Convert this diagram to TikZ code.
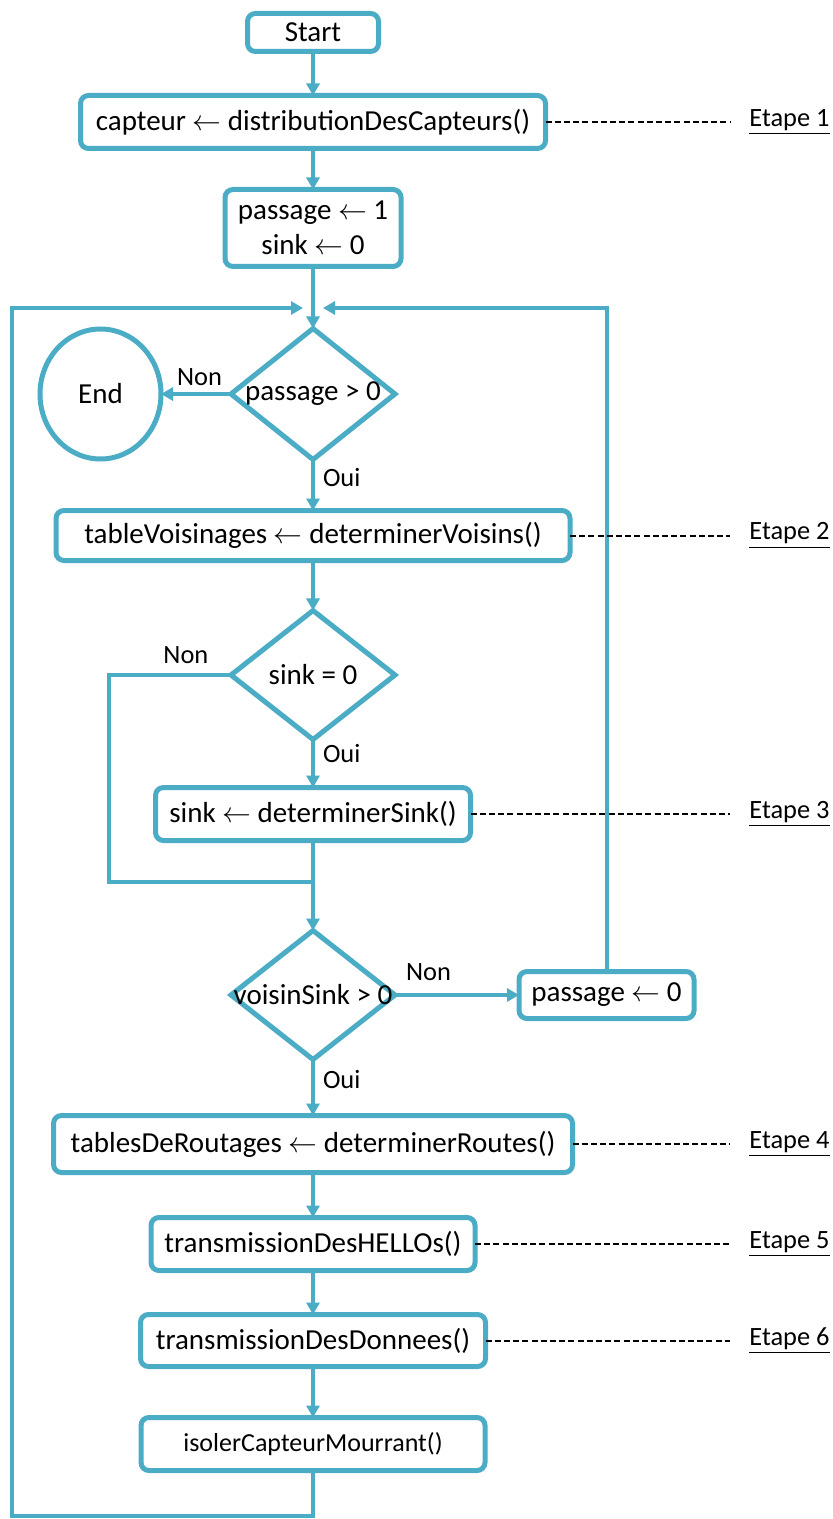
\documentclass[tikz,border=0pt]{standalone}
\usepackage{fontspec}
\setmainfont{Carlito}
\usepackage{tikz}
\usetikzlibrary{positioning,shapes.geometric,arrows.meta}
\definecolor{aqua}{HTML}{4BACC6}
\newcommand{\asgn}{$\leftarrow$}
\tikzset{
  box/.style={draw=aqua, line width=2.5pt, rounded corners=4pt, align=center,
    inner sep=0pt, outer sep=0pt, font=\fontsize{14.5}{17.5}\selectfont},
  test/.style={diamond, draw=aqua, line width=2.5pt, inner sep=0pt, outer sep=0pt,
    minimum width=82pt, font=\fontsize{14.5}{17.5}\selectfont},
  flow/.style={draw=aqua, line width=2pt, -{Triangle[length=6pt,width=6.5pt]}},
  link/.style={draw=aqua, line width=2pt},
  hint/.style={black, line width=1pt, dash pattern=on 3pt off 1.6pt},
  etape/.style={inner sep=0pt, anchor=west, font=\fontsize{13.2}{15}\selectfont},
  answer/.style={inner sep=3pt, font=\fontsize{13.2}{15}\selectfont}}

\begin{document}
\begin{tikzpicture}
        \useasboundingbox (0,0) rectangle (416pt,-759.5pt);

        \node[box, minimum width=65.5pt, minimum height=19pt] (start) at (156.5pt,-16.25pt) {Start};
        \node[box, minimum width=232.5pt, minimum height=26.5pt, below=22pt of start] (distrib) {capteur \asgn{} distributionDesCapteurs()};
        \node[box, minimum width=88pt, minimum height=38.5pt, below=20.5pt of distrib] (init) {passage \asgn{} 1\\sink \asgn{} 0};
        \node[test, minimum height=65.5pt, below=31pt of init] (test1) {\makebox[0pt]{passage > 0}};
        \node[ellipse, draw=aqua, line width=2.5pt, inner sep=0pt, outer sep=0pt, minimum width=60.5pt,
          minimum height=65pt, left=35pt of test1, font=\fontsize{14.5}{17.5}\selectfont] (stop) {End};
        \node[box, minimum width=257pt, minimum height=25pt, below=25.5pt of test1] (voisins) {tableVoisinages \asgn{} determinerVoisins()};
        \node[test, minimum height=64.5pt, below=25pt of voisins] (test2) {\makebox[0pt]{sink = 0}};
        \node[box, minimum width=157.5pt, minimum height=26.5pt, below=24pt of test2] (sinkbox) {sink \asgn{} determinerSink()};
        \node[test, minimum height=64.5pt, below=45pt of sinkbox] (test3) {\makebox[0pt]{voisinSink > 0}};
        \node[box, minimum width=87.5pt, minimum height=23.5pt, right=62pt of test3] (pass0) {passage \asgn{} 0};
        \node[box, minimum width=259.5pt, minimum height=28.5pt, below=28pt of test3] (routes) {tablesDeRoutages \asgn{} determinerRoutes()};
        \node[box, minimum width=162pt, minimum height=26.5pt, below=22.5pt of routes] (hellos) {transmissionDesHELLOs()};
        \node[box, minimum width=172.5pt, minimum height=26pt, below=22pt of hellos] (donnees) {transmissionDesDonnees()};
        \node[box, minimum width=172pt, minimum height=26.5pt, below=25.5pt of donnees,
          font=\fontsize{13}{15}\selectfont] (isoler) {isolerCapteurMourrant()};

        \coordinate[below=20.75pt of init.south] (merge);
        \coordinate[below=20.75pt of sinkbox.south] (join);
        \coordinate (rail) at (6pt,0);
        \coordinate (erail) at (374.5pt,0);

        \draw[flow] (start) -- (distrib);
        \draw[flow] (distrib) -- (init);
        \draw[flow] (init) -- (test1);
        \draw[flow] (test1.west) -- node[answer, above, pos=0.45] (no1) {Non} (stop.east);
        \draw[flow] (test1.south) -- node[answer, right, pos=0.35, xshift=1pt] (yes1) {Oui} (voisins.north);
        \draw[flow] (voisins) -- (test2);
        \draw[link] (test2.west) -- node[answer, above, pos=0.37, yshift=1.5pt] (no2) {Non} ++(-61pt,0) |- (join);
        \draw[flow] (test2.south) -- node[answer, right, pos=0.3, xshift=1pt] (yes2) {Oui} (sinkbox.north);
        \draw[flow] (sinkbox) -- (test3);
        \draw[flow] (test3.east) -- node[answer, above, pos=0.27, yshift=3pt] (no3) {Non} (pass0.west);
        \draw[flow] (test3.south) -- node[answer, right, pos=0.35, xshift=1pt] (yes3) {Oui} (routes.north);
        \draw[flow] (routes) -- (hellos);
        \draw[flow] (hellos) -- (donnees);
        \draw[flow] (donnees) -- (isoler);

        \draw[flow] (isoler.south) -- ++(0,-22.75pt) -| (rail |- merge) -- ([xshift=-5pt]merge);
        \draw[flow] (pass0.north) |- ([xshift=5pt]merge);

        \foreach \blk/\num in {distrib/1, voisins/2, sinkbox/3, routes/4, hellos/5, donnees/6} {
          \node[etape] (etape\num) at (\blk -| erail) {\underline{Etape \num}};
          \draw[hint] (\blk.east) -- ([xshift=-9.5pt]etape\num.west);
        }
\end{tikzpicture}
\end{document}
